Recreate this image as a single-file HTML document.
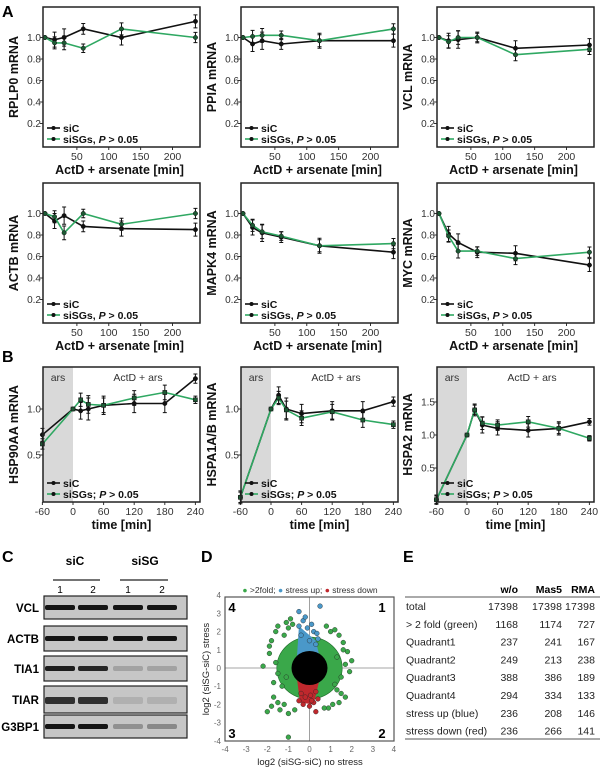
<!DOCTYPE html>
<html><head><meta charset="utf-8"><style>
body{margin:0;background:#fff;width:600px;height:769px;overflow:hidden}
svg{font-family:"Liberation Sans",sans-serif}
</style></head><body>
<svg id="fig" width="600" height="769" viewBox="0 0 600 769" xmlns="http://www.w3.org/2000/svg">
<text x="2" y="17" font-size="16" font-weight="bold">A</text>
<text x="2" y="362" font-size="16" font-weight="bold">B</text>
<text x="2" y="562" font-size="16" font-weight="bold">C</text>
<text x="201" y="562" font-size="16" font-weight="bold">D</text>
<text x="403" y="562" font-size="16" font-weight="bold">E</text>
<g id="gA"></g>
<g id="gB"></g>
<g id="gC"></g>
<g id="gD"></g>
<g id="gE"></g>
</svg>
<script>
// ---- Panel A data ----
const timesA = [0, 15, 30, 60, 120, 236];
const genesA = ["RPLP0", "PPIA", "VCL", "ACTB", "MAPK4", "MYC"];
const siC_RPLP0 = [1.0, 0.98, 1.0, 1.08, 1.0, 1.15];
const siSG_RPLP0 = [1.0, 0.95, 0.95, 0.9, 1.08, 1.0];
const siC_PPIA = [1.0, 0.94, 0.97, 0.94, 0.97, 0.97];
const siSG_PPIA = [1.0, 1.01, 1.02, 1.02, 0.97, 1.08];
const siC_VCL = [1.0, 0.97, 0.98, 1.0, 0.9, 0.93];
const siSG_VCL = [1.0, 0.96, 1.0, 1.0, 0.84, 0.89];
const siC_ACTB = [1.0, 0.93, 0.98, 0.88, 0.86, 0.85];
const siSG_ACTB = [1.0, 0.97, 0.82, 1.0, 0.9, 1.0];
const siC_MAPK4 = [1.0, 0.87, 0.82, 0.78, 0.7, 0.64];
const siSG_MAPK4 = [1.0, 0.89, 0.83, 0.79, 0.7, 0.72];
const siC_MYC = [1.0, 0.81, 0.73, 0.64, 0.63, 0.52];
const siSG_MYC = [1.0, 0.79, 0.65, 0.65, 0.58, 0.64];
const errA = [0.01, 0.07, 0.08, 0.05, 0.07, 0.06];
const yTicksA = [0.2, 0.4, 0.6, 0.8, 1.0];
const xTicksA = [50, 100, 150, 200];
// ---- Panel B data ----
const timesB = [-60, 0, 15, 30, 60, 120, 180, 240];
const genesB = ["HSP90AA", "HSPA1A/B", "HSPA2"];
const siC_HSP90AA = [0.72, 1.0, 0.98, 1.0, 1.04, 1.06, 1.06, 1.33];
const siSG_HSP90AA = [0.62, 1.0, 1.1, 1.05, 1.04, 1.12, 1.18, 1.1];
const siC_HSPA1 = [0.04, 1.0, 1.15, 1.0, 0.95, 0.98, 0.98, 1.08];
const siSG_HSPA1 = [0.04, 1.0, 1.12, 0.99, 0.9, 0.97, 0.88, 0.83];
const siC_HSPA2 = [0.02, 1.0, 1.38, 1.15, 1.1, 1.07, 1.1, 1.2];
const siSG_HSPA2 = [0.02, 1.0, 1.38, 1.18, 1.15, 1.2, 1.1, 0.95];
const errB = [0.07, 0.01, 0.09, 0.12, 0.1, 0.1, 0.1, 0.05];
const xTicksB = [-60, 0, 60, 120, 180, 240];
// ---- Panel E data ----
const tableHead = ["w/o", "Mas5", "RMA"];
const tableRows = ["total", "> 2 fold (green)", "Quadrant1", "Quadrant2", "Quadrant3", "Quadrant4", "stress up (blue)", "stress down (red)"];
const colWo = [17398, 1168, 237, 249, 388, 294, 236, 236];
const colMas5 = [17398, 1174, 241, 213, 386, 334, 208, 266];
const colRMA = [17398, 727, 167, 238, 189, 133, 146, 141];
// ---- Panel D data (outlying points, log2 units) ----
const greenX = [-1.6,-1.8,-1.9,-1.5,-1.3,-1.7,-1.2,-1.4,-2.0,-1.8,-1.5,-1.1,-1.6,1.4,1.6,1.8,2.0,1.5,1.3,1.7,1.9,1.2,1.6,1.4,1.1,-0.9,-1.0,0.9,1.0,-1.9,-1.7,1.5,-1.0,-0.8,0.8,-1.2,1.3,-1.5,1.7,-2.2,1.2,-0.7,0.7,-1.1,-1.0];
const greenY = [2.0,1.5,0.8,-0.3,-1.0,-1.6,-2.0,-2.3,-2.4,-2.1,2.3,2.5,0.3,1.8,1.4,0.9,0.4,-0.5,-1.2,-1.6,-0.2,2.1,1.0,-1.9,-2.0,2.7,2.2,-2.2,2.0,1.2,-0.8,-1.4,-2.5,2.4,2.3,1.8,0.6,-1.9,0.2,0.1,-0.9,-2.3,-2.2,-0.5,-3.8];
const blueX = [-0.5,-0.3,-0.1,0.2,0.4,-0.4,0.0,0.3,-0.2,0.1,0.5,-0.5,0.35];
const blueY = [3.1,2.6,2.2,2.0,1.6,1.8,1.5,1.3,2.8,2.4,3.4,2.3,1.9];
const redX = [-0.5,-0.3,0.0,0.2,0.4,-0.2,0.1,0.3,-0.4,0.3,0.05];
const redY = [-1.8,-2.0,-2.1,-1.9,-1.7,-1.6,-1.8,-2.4,-1.4,-1.3,-1.5];
const dTicks = [-4,-3,-2,-1,0,1,2,3,4];

const NS = "http://www.w3.org/2000/svg";
const GREEN = "#2fa862";
function el(parent, tag, attrs, txt){
  const e = document.createElementNS(NS, tag);
  for (const k in attrs) e.setAttribute(k, attrs[k]);
  if (txt !== undefined) e.textContent = txt;
  parent.appendChild(e);
  return e;
}

function drawLine(g, xs, ys, err, sx, sy, color, name, sq){
  const path = xs.map((t,i)=>(i?"L":"M")+sx(t).toFixed(1)+","+sy(ys[i]).toFixed(1)).join(" ");
  const p = el(g,"path",{d:path,fill:"none",stroke:color,"stroke-width":1.6});
  
  
  xs.forEach((t,i)=>{
    const x=sx(t), y1=sy(ys[i]+err[i]), y2=sy(ys[i]-err[i]);
    const eb = el(g,"path",{d:`M${x},${y1}V${y2}M${x-2},${y1}H${x+2}M${x-2},${y2}H${x+2}`,stroke:"#111","stroke-width":1});
    
    
    let m;
    if (sq) m = el(g,"rect",{x:x-2,y:sy(ys[i])-2,width:4,height:4,fill:color==="#111"?"#111":"#1d5a34",stroke:"#111","stroke-width":0.6});
    else m = el(g,"circle",{cx:x,cy:sy(ys[i]),r:2.2,fill:color==="#111"?"#111":"#1d5a34",stroke:"#111","stroke-width":0.5});
    
    
  });
}

function legend(g, left, bottom, label2){
  const items = [["siC","#111"],[label2,GREEN]];
  items.forEach((it,i)=>{
    const y = bottom - 19 + i*11;
    const l = el(g,"line",{x1:left+4,x2:left+17,y1:y,y2:y,stroke:it[1],"stroke-width":1.6});
    
    
    el(g,"circle",{cx:left+10.5,cy:y,r:2,fill:"#111"});
    const t = el(g,"text",{x:left+20,y:y+4,"font-size":10.5,"font-weight":"bold",fill:"#111"});
    
    
    if (i===1){ const parts = label2.split("P"); t.appendChild(document.createTextNode(parts[0]));
      el(t,"tspan",{"font-style":"italic"},"P"); t.appendChild(document.createTextNode(parts[1]));}
    else t.textContent = it[0];
  });
}

// Panel A
const gA = document.getElementById("gA");
const colsL = [43, 241, 437], W = 157;
const seriesA = [[siC_RPLP0,siSG_RPLP0],[siC_PPIA,siSG_PPIA],[siC_VCL,siSG_VCL],[siC_ACTB,siSG_ACTB],[siC_MAPK4,siSG_MAPK4],[siC_MYC,siSG_MYC]];
genesA.forEach((gname, k)=>{
  const L = colsL[k%3], T = 7 + Math.floor(k/3)*176, H = 140;
  const g = el(gA,"g",{});
  
  
  const sx = v => L + 2 + v*(W-4)/240;
  const sy = v => T + 138 - v*107.5;
  yTicksA.forEach(v=>{
    el(g,"line",{x1:L-3,x2:L,y1:sy(v),y2:sy(v),stroke:"#333"});
    const t = el(g,"text",{x:L-2,y:sy(v)+3.5,"text-anchor":"end","font-size":10,fill:"#333"},v.toFixed(1));
    
    
  });
  xTicksA.forEach(v=>{
    el(g,"line",{x1:sx(v),x2:sx(v),y1:T+H,y2:T+H+3,stroke:"#333"});
    const t = el(g,"text",{x:sx(v),y:T+H+13,"text-anchor":"middle","font-size":10.5,fill:"#333"},v);
    
    
  });
  drawLine(g,timesA,seriesA[k][0],errA,sx,sy,"#111","sic",false);
  drawLine(g,timesA,seriesA[k][1],errA.map(e=>e*0.8),sx,sy,GREEN,"sisgs",false);
  const r = el(g,"rect",{x:L,y:T,width:W,height:H,fill:"none",stroke:"#222","stroke-width":1.5});
  
  
  legend(g, L, T+H, "siSGs, P > 0.05");
  const xl = el(g,"text",{x:L+W/2-2,y:T+H+27,"text-anchor":"middle","font-size":12.5,"font-weight":"bold",fill:"#111"},"ActD + arsenate [min]");
  
  
  const yl = el(g,"text",{transform:`translate(${L-25},${T+H/2}) rotate(-90)`,"text-anchor":"middle","font-size":12.5,"font-weight":"bold",fill:"#111"},gname+" mRNA");
  
  
});

// Panel B
const gB = document.getElementById("gB");
const seriesB = [[siC_HSP90AA,siSG_HSP90AA],[siC_HSPA1,siSG_HSPA1],[siC_HSPA2,siSG_HSPA2]];
const yTicksB = [[0.5,1.0],[0.5,1.0],[0.5,1.0,1.5]];
genesB.forEach((gname,k)=>{
  const L = colsL[k], T = 367, H = 135;
  const g = el(gB,"g",{});
  
  
  const sx = v => L + 30 + v*0.51;
  const pu = k===2 ? 66 : 92;
  const sy = v => T + H - 1 - v*pu;
  const sh = el(g,"rect",{x:L,y:T,width:30,height:H,fill:"#d9d9d9"});
  
  
  el(g,"text",{x:L+15,y:T+14,"text-anchor":"middle","font-size":10.5,fill:"#333"},"ars");
  el(g,"text",{x:L+95,y:T+14,"text-anchor":"middle","font-size":10.5,fill:"#333"},"ActD + ars");
  yTicksB[k].forEach(v=>{
    el(g,"line",{x1:L-3,x2:L,y1:sy(v),y2:sy(v),stroke:"#333"});
    const t = el(g,"text",{x:L-2,y:sy(v)+3.5,"text-anchor":"end","font-size":10,fill:"#333"},v.toFixed(1));
    
    
  });
  xTicksB.forEach(v=>{
    el(g,"line",{x1:sx(v),x2:sx(v),y1:T+H,y2:T+H+3,stroke:"#333"});
    const t = el(g,"text",{x:sx(v),y:T+H+13,"text-anchor":"middle","font-size":10.5,fill:"#333"},v);
    
    
  });
  drawLine(g,timesB,seriesB[k][0],errB,sx,sy,"#111","sic",false);
  drawLine(g,timesB,seriesB[k][1],errB.map(e=>e*0.8),sx,sy,GREEN,"sisgs",true);
  const r = el(g,"rect",{x:L,y:T,width:W,height:H,fill:"none",stroke:"#222","stroke-width":1.5});
  
  
  legend(g, L, T+H, "siSGs; P > 0.05");
  const xl = el(g,"text",{x:L+W/2,y:T+H+27,"text-anchor":"middle","font-size":12.5,"font-weight":"bold",fill:"#111"},"time [min]");
  
  
  const yl = el(g,"text",{transform:`translate(${L-25},${T+H/2}) rotate(-90)`,"text-anchor":"middle","font-size":12.5,"font-weight":"bold",fill:"#111"},gname+" mRNA");
  
  
});

// Panel C
const gC = document.getElementById("gC");
const blotNames = ["VCL","ACTB","TIA1","TIAR","G3BP1"];
const blotY = [596,626,656,686,715];
const blotH = [23,25,25,27,23];
const bandStrength = [[1,1,1,1],[1,1,1,1],[0.95,0.9,0.2,0.2],[0.85,0.85,0.12,0.12],[1,1,0.3,0.35]];
[["siC",75,53,100],["siSG",145,120,168]].forEach(a=>{
  el(gC,"text",{x:a[1],y:565,"text-anchor":"middle","font-size":12,"font-weight":"bold"},a[0]);
  el(gC,"line",{x1:a[2],x2:a[3],y1:580,y2:580,stroke:"#222","stroke-width":1.2});
});
[60,93,128,162].forEach((x,i)=>el(gC,"text",{x:x,y:593,"text-anchor":"middle","font-size":10},i%2+1));
blotNames.forEach((n,i)=>{
  const lab = el(gC,"text",{x:39,y:blotY[i]+blotH[i]/2+4.5,"text-anchor":"end","font-size":11.5,"font-weight":"bold"},n);
  
  
  const r = el(gC,"rect",{x:44,y:blotY[i],width:143,height:blotH[i],fill:"#c6c6c6",stroke:"#222","stroke-width":1.2});
  
  
  [60,93,128,162].forEach((x,j)=>{
    const s = bandStrength[i][j];
    const b = el(gC,"rect",{x:x-15,y:blotY[i]+blotH[i]/2-2.5,width:30,height:i===3?7:5,fill:`rgba(20,20,20,${s})`,rx:2});
    
    
  });
});

// Panel D
const gD = document.getElementById("gD");
const dx = v => 309.5 + v*21.1, dy = v => 668 - v*18.2;
dTicks.forEach(v=>{
  el(gD,"text",{x:dx(v),y:752,"text-anchor":"middle","font-size":8,fill:"#666"},v);
  el(gD,"text",{x:221,y:dy(v)+3,"text-anchor":"end","font-size":8,fill:"#666"},v);
});
el(gD,"line",{x1:225,x2:394,y1:dy(0),y2:dy(0),stroke:"#888","stroke-width":0.8});
el(gD,"line",{x1:dx(0),x2:dx(0),y1:597,y2:741,stroke:"#888","stroke-width":0.8});
el(gD,"ellipse",{cx:dx(0),cy:dy(0),rx:1.55*21.1,ry:1.7*18.2,fill:"#3aa84a",stroke:"#1d6b28","stroke-width":0.6});
el(gD,"path",{d:`M${dx(-0.6)},${dy(0.5)} L${dx(-0.5)},${dy(2.3)} L${dx(0.3)},${dy(1.5)} L${dx(0.5)},${dy(0.5)}Z`,fill:"#4a98c9"});
el(gD,"path",{d:`M${dx(-0.6)},${dy(-0.5)} L${dx(-0.45)},${dy(-1.9)} L${dx(0.2)},${dy(-2.0)} L${dx(0.5)},${dy(-0.5)}Z`,fill:"#c0282d"});
function pts(xs,ys,fill,name){
  xs.forEach((x,i)=>{ const c = el(gD,"circle",{cx:dx(x),cy:dy(ys[i]),r:2.4,fill:fill,stroke:"#222","stroke-width":0.4});
    
    });
}
pts(greenX,greenY,"#3aa84a","green-point");
pts(blueX,blueY,"#4a98c9","blue-point");
pts(redX,redY,"#c0282d","red-point");
const blob = el(gD,"ellipse",{cx:dx(0),cy:dy(0),rx:18,ry:17,fill:"#000"});


const fr = el(gD,"rect",{x:225,y:597,width:169,height:144,fill:"none",stroke:"#555","stroke-width":1.2});


[["4",232,612],["1",382,612],["3",232,738],["2",382,738]].forEach(q=>el(gD,"text",{x:q[1],y:q[2],"font-size":13,"font-weight":"bold","text-anchor":"middle"},q[0]));
const lg = el(gD,"text",{x:310,y:593,"text-anchor":"middle","font-size":8.5,fill:"#333"});


el(lg,"tspan",{fill:"#3aa84a"},"● ");el(lg,"tspan",{},">2fold; ");el(lg,"tspan",{fill:"#4a98c9"},"● ");el(lg,"tspan",{},"stress up; ");el(lg,"tspan",{fill:"#c0282d"},"● ");el(lg,"tspan",{},"stress down");
const dxl = el(gD,"text",{x:310,y:765,"text-anchor":"middle","font-size":9.5,fill:"#222"},"log2 (siSG-siC) no stress");


const dyl = el(gD,"text",{transform:"translate(209,669) rotate(-90)","text-anchor":"middle","font-size":9.5,fill:"#222"},"log2 (siSG-siC) stress");



// Panel E
const gE = document.getElementById("gE");
const colX = [518, 562, 595];
tableHead.forEach((h,i)=>el(gE,"text",{x:colX[i],y:593,"text-anchor":"end","font-size":10.5,"font-weight":"bold"},h));
el(gE,"line",{x1:405,x2:600,y1:597,y2:597,stroke:"#555"});
el(gE,"line",{x1:405,x2:600,y1:739,y2:739,stroke:"#555"});
tableRows.forEach((r,i)=>{
  const y = 610 + i*17.8;
  const t = el(gE,"text",{x:406,y:y,"font-size":10.5,fill:"#222"},r);
  
  
  [colWo,colMas5,colRMA].forEach((c,j)=>el(gE,"text",{x:colX[j],y:y,"text-anchor":"end","font-size":10.5,fill:"#222","textLength":(c[i]>9999?30:undefined)||null},c[i]));
});
gE.querySelectorAll('text[textLength="null"]').forEach(t=>t.removeAttribute('textLength'));
</script>
</body></html>
